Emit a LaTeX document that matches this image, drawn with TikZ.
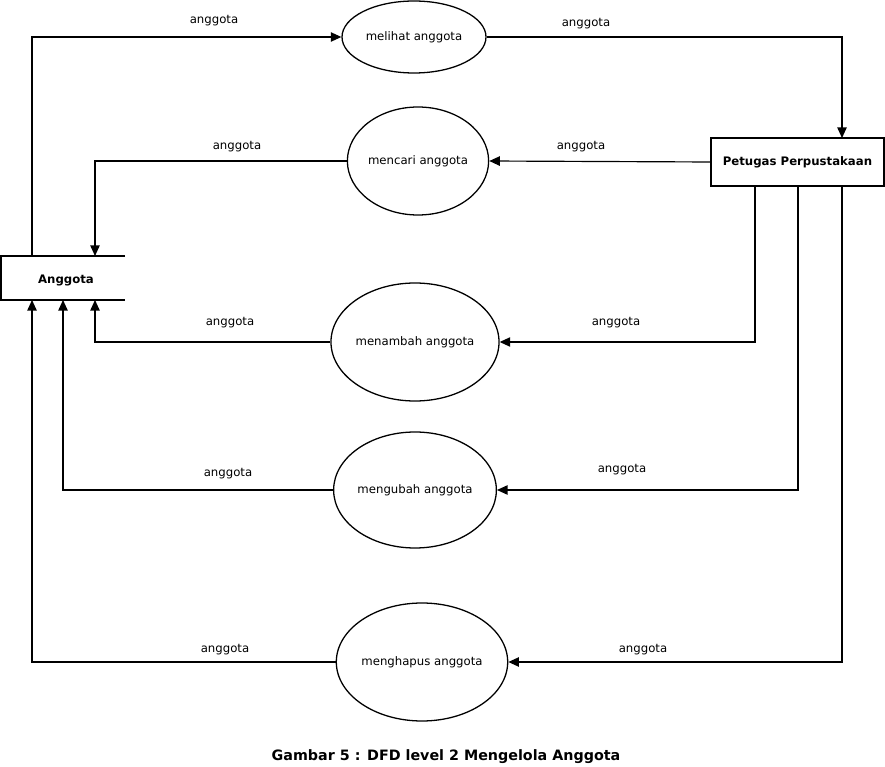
\documentclass[tikz,border=0pt]{standalone}
\usepackage{fontspec}
\setmainfont{DejaVu Sans}
\usetikzlibrary{positioning,arrows.meta,shapes.geometric}

\begin{document}
\begin{tikzpicture}[
  x=0.03cm, y=-0.03cm,
  proc/.style={ellipse, draw=black, line width=1.1pt, inner sep=0pt, font=\fontsize{10}{12}\selectfont},
  entity/.style={rectangle, draw=black, line width=1.1pt, font=\fontsize{10}{12}\selectfont\bfseries},
  flow/.style={-{Triangle[length=9pt,width=8pt]}, line width=1pt},
  label/.style={font=\fontsize{10}{12}\selectfont}
]
\useasboundingbox (0,0) rectangle (885,767);

% Entities
\node[entity, minimum width=173*0.03cm, minimum height=48*0.03cm] (petugas) at (797.5,162) {Petugas Perpustakaan};
\node[font=\fontsize{10}{12}\selectfont\bfseries] (anggota) at (66,280) {Anggota};
\draw[line width=1.1pt] (125,256) -- (1,256) -- (1,300) -- (125,300);

% Processes
\node[proc, minimum width=144*0.03cm, minimum height=72*0.03cm] (melihat) at (414,37) {melihat anggota};
\node[proc, minimum width=140*0.03cm, minimum height=108*0.03cm] (mencari) at (418,161) {mencari anggota};
\node[proc, minimum width=158*0.03cm, minimum height=118*0.03cm] (menambah) at (415,342) {menambah anggota};
\node[proc, minimum width=156*0.03cm, minimum height=116*0.03cm] (mengubah) at (415,490) {mengubah anggota};
\node[proc, minimum width=160*0.03cm, minimum height=118*0.03cm] (menghapus) at (422,662) {menghapus anggota};

% Anchor points
\coordinate (agtA) at (32,256);
\coordinate (agtB) at (95,256);
\coordinate (agtC) at (95,300);
\coordinate (agtD) at (63,300);
\coordinate (agtE) at (32,300);
\coordinate (ptgA) at (842,138);
\coordinate (ptgB) at (755,186);
\coordinate (ptgC) at (798,186);
\coordinate (ptgD) at (842,186);

% Flows
\draw[flow] (agtA) |- (melihat.west);
\draw[flow] (melihat.east) -| (ptgA);
\draw[flow] (petugas.west) -- (mencari.east);
\draw[flow] (mencari.west) -| (agtB);
\draw[flow] (ptgB) |- (menambah.east);
\draw[flow] (menambah.west) -| (agtC);
\draw[flow] (ptgC) |- (mengubah.east);
\draw[flow] (mengubah.west) -| (agtD);
\draw[flow] (ptgD) |- (menghapus.east);
\draw[flow] (menghapus.west) -| (agtE);

% Labels
\node[label] at (214,21) {anggota};
\node[label] at (586,24) {anggota};
\node[label] at (581,147) {anggota};
\node[label] at (237,147) {anggota};
\node[label] at (616,323) {anggota};
\node[label] at (230,323) {anggota};
\node[label] at (622,470) {anggota};
\node[label] at (228,474) {anggota};
\node[label] at (643,650) {anggota};
\node[label] at (225,650) {anggota};

% Caption
\node[font=\fontsize{12.2}{14}\selectfont\bfseries] (caption) at (446,757) {Gambar 5 : DFD level 2 Mengelola Anggota};
\end{tikzpicture}
\end{document}
